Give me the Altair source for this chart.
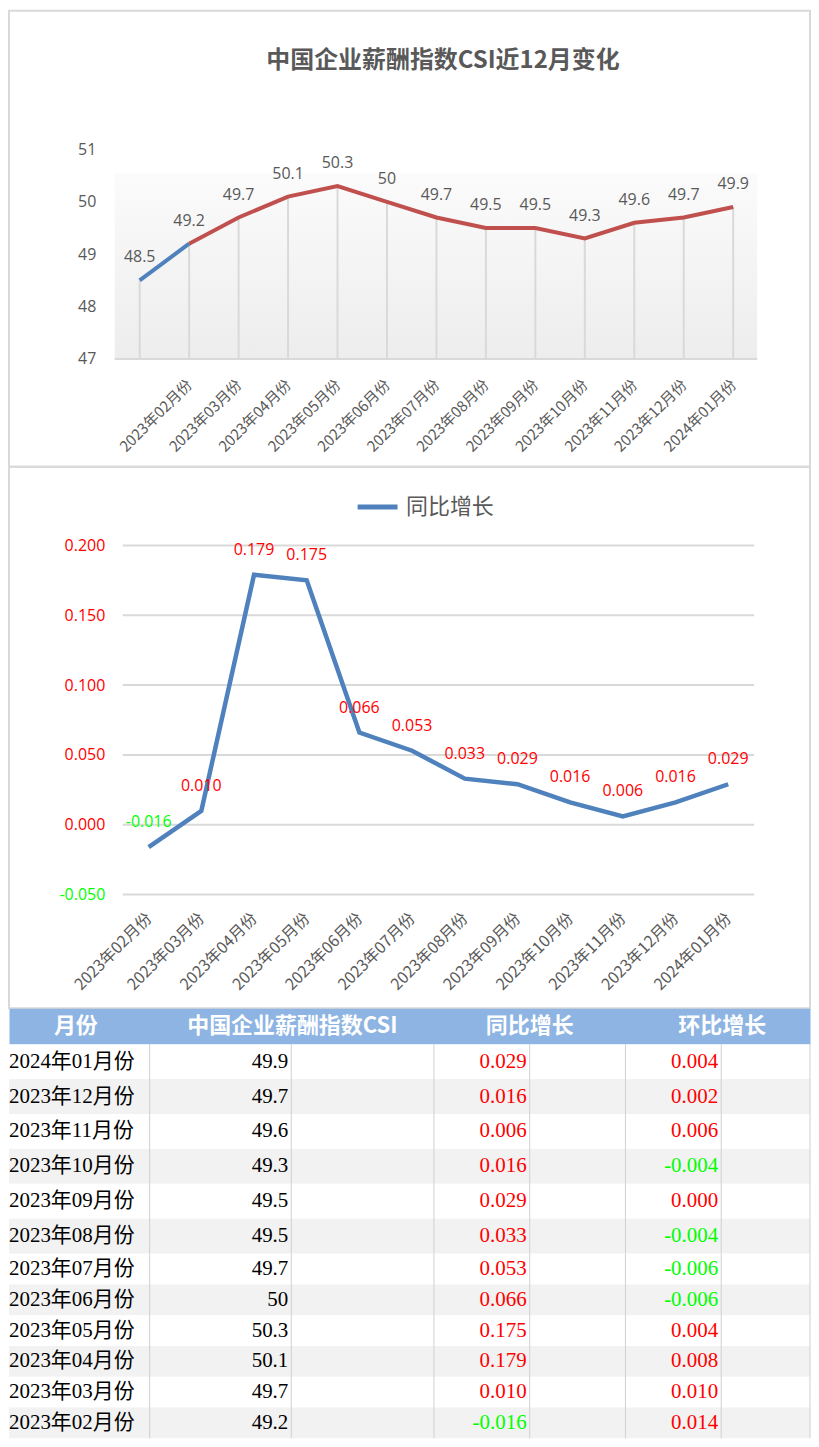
import altair as alt
import pandas as pd

# ---------------- data ----------------
months = ["2023年02月份", "2023年03月份", "2023年04月份", "2023年05月份", "2023年06月份",
          "2023年07月份", "2023年08月份", "2023年09月份", "2023年10月份", "2023年11月份",
          "2023年12月份", "2024年01月份"]
prev_month = "2023年01月份"
prev_csi = 48.5
csi = [49.2, 49.7, 50.1, 50.3, 50, 49.7, 49.5, 49.5, 49.3, 49.6, 49.7, 49.9]
yoy = [-0.016, 0.010, 0.179, 0.175, 0.066, 0.053, 0.033, 0.029, 0.016, 0.006, 0.016, 0.029]
mom = [0.014, 0.010, 0.008, 0.004, -0.006, -0.006, -0.004, 0.000, -0.004, 0.006, 0.002, 0.004]
csi_ticks = [47, 48, 49, 50, 51]
yoy_ticks = [-0.05, 0, 0.05, 0.1, 0.15, 0.2]
title_text = "中国企业薪酬指数CSI近12月变化"
legend_label = "同比增长"
headers = ["月份", "中国企业薪酬指数CSI", "同比增长", "环比增长"]

# ---------------- style ----------------
W = 803
H1 = 457
H2 = 543
HH = 36
HB1 = 210
HB2 = 185
GRAY = "#595959"
GRID = "#D9D9D9"
BLUE = "#4F81BD"
RED = "#C0504D"
POS = "#FF0000"
NEG = "#00FF00"
SANS = "Open Sans"
CJK = "Noto Sans CJK SC"
SERIF = "Liberation Serif, Noto Sans CJK SC"
MINUS_FIX = "replace(format({v}, '.3f'), '\u2212', '-')"

one = pd.DataFrame({"k": [0]})

# ---------------- panel 1 ----------------
all_months = [prev_month] + months
all_csi = [prev_csi] + csi
df1 = pd.DataFrame({"month": all_months, "csi": all_csi})
seg_df = pd.concat([
    pd.DataFrame({"month": all_months[:2], "csi": all_csi[:2], "seg": "a"}),
    pd.DataFrame({"month": all_months[1:], "csi": all_csi[1:], "seg": "b"}),
], ignore_index=True)

x1 = alt.X("month:N", sort=all_months,
           scale=alt.Scale(type="point", range=[131, 726], padding=0),
           axis=alt.Axis(title=None, labelAngle=-45, labelAlign="right", labelBaseline="middle",
                         labelFont=CJK, labelFontSize=15, labelColor=GRAY, labelPadding=8,
                         offset=-93, domain=False, ticks=False, tickSize=0, grid=False,
                         labelOverlap=False,
                         labelExpr=f"datum.label == '{prev_month}' ? '' : datum.label"))
y1 = alt.Y("csi:Q", scale=alt.Scale(domain=[47, 51], range=[349, 139], zero=False, nice=False),
           axis=alt.Axis(title=None, values=csi_ticks, format="d", labelFont=SANS, labelFontSize=16,
                         labelColor=GRAY, labelPadding=6, offset=-93, domain=False,
                         ticks=False, tickSize=0, grid=False))

grad = alt.Chart(one).mark_rect(
    color=alt.Gradient(gradient="linear",
                       stops=[alt.GradientStop(color="#FBFBFB", offset=0),
                              alt.GradientStop(color="#EDEDED", offset=1)],
                       x1=0, x2=0, y1=0, y2=1)
).encode(x=alt.value(106), x2=alt.value(750), y=alt.value(163), y2=alt.value(349))

bottom = alt.Chart(one).mark_rule(color=GRID, strokeWidth=2).encode(
    y=alt.datum(csi_ticks[0]), x=alt.value(106), x2=alt.value(750))

drops = alt.Chart(df1).mark_rule(color=GRID, strokeWidth=2).encode(
    x=x1, y=y1, y2=alt.datum(csi_ticks[0]))

line1 = alt.Chart(seg_df).mark_line(strokeWidth=4).encode(
    x=x1, y=y1,
    color=alt.Color("seg:N", scale=alt.Scale(domain=["a", "b"], range=[BLUE, RED]), legend=None))

labels1 = alt.Chart(df1).mark_text(dy=-23, fontSize=16, font=SANS, color=GRAY).encode(
    x=x1, y=y1, text=alt.Text("csi:Q", format=".1~f"))

title1 = alt.Chart(pd.DataFrame({"t": [title_text]})).mark_text(
    font=CJK, fontSize=24, fontWeight="bold", color=GRAY).encode(
    text="t:N", x=alt.value(435), y=alt.value(50))

panel1 = alt.layer(grad, bottom, drops, line1, labels1, title1).properties(
    width=W, height=H1, view=alt.ViewBackground(stroke=GRID, strokeWidth=2))

# ---------------- panel 2 ----------------
df2 = pd.DataFrame({"month": months, "yoy": yoy, "series": legend_label})
grid_df = pd.DataFrame({"yoy": yoy_ticks})

x2 = alt.X("month:N", sort=months,
           scale=alt.Scale(type="point", range=[140, 721], padding=0),
           axis=alt.Axis(title=None, labelAngle=-45, labelAlign="right", labelBaseline="middle",
                         labelFont=CJK, labelFontSize=16, labelColor=GRAY, labelPadding=7,
                         offset=-100, domain=False, ticks=False, tickSize=0, grid=False,
                         labelOverlap=False))
y2 = alt.Y("yoy:Q", scale=alt.Scale(domain=[-0.05, 0.2], range=[429, 79], zero=False, nice=False),
           axis=alt.Axis(title=None, values=yoy_ticks,
                         labelExpr=MINUS_FIX.format(v="datum.value"),
                         labelColor={"condition": {"test": "datum.value < 0", "value": NEG},
                                     "value": POS},
                         labelFont=SANS, labelFontSize=16, labelPadding=4, offset=-100,
                         domain=False, ticks=False, tickSize=0, grid=False))

grid2 = alt.Chart(grid_df).mark_rule(color=GRID, strokeWidth=2).encode(
    y=y2, x=alt.value(114), x2=alt.value(747))

line2 = alt.Chart(df2).mark_line(strokeWidth=4.5).encode(
    x=x2, y=y2,
    color=alt.Color("series:N", scale=alt.Scale(range=[BLUE]),
                    legend=alt.Legend(title=None, orient="none", legendX=347, legendY=18,
                                      symbolType="stroke", symbolSize=1600,
                                      symbolStrokeWidth=5, labelFont=CJK, labelFontSize=22,
                                      labelColor=GRAY, labelOffset=6, padding=0)))

labels2 = alt.Chart(df2).transform_calculate(
    lbl=MINUS_FIX.format(v="datum.yoy")
).mark_text(dy=-25, fontSize=16, font=SANS).encode(
    x=x2, y=y2, text="lbl:N",
    color=alt.condition("datum.yoy < 0", alt.value(NEG), alt.value(POS)))

panel2 = alt.layer(grid2, line2, labels2).properties(
    width=W, height=H2, view=alt.ViewBackground(stroke=GRID, strokeWidth=2))

# ---------------- table ----------------
hdr_x = [67, 284, 522, 715]
header = alt.layer(*[
    alt.Chart(pd.DataFrame({"t": [h]})).mark_text(
        font=CJK, fontSize=22, fontWeight="bold", color="white").encode(
        text="t:N", x=alt.value(cx), y=alt.value(HH / 2))
    for h, cx in zip(headers, hdr_x)
]).properties(width=W, height=HH, view=alt.ViewBackground(fill="#8DB4E2", stroke="transparent"))

tdf = pd.DataFrame({"month": months[::-1], "csi": csi[::-1], "yoy": yoy[::-1], "mom": mom[::-1]})
tdf["i"] = list(range(len(tdf)))

col_lines = [141, 283, 426, 522, 618, 714, W]


def body(part, h):
    yb = alt.Y("month:N", sort=None, axis=None,
               scale=alt.Scale(type="band", paddingInner=0, paddingOuter=0))
    yt = alt.Y("month:N", sort=None, axis=None, bandPosition=0.5,
               scale=alt.Scale(type="band", paddingInner=0, paddingOuter=0))
    base = alt.Chart(part)
    rows = base.mark_rect().encode(
        y=yb, x=alt.value(0), x2=alt.value(W),
        color=alt.condition("datum.i % 2 == 1", alt.value("#F2F2F2"), alt.value("#FFFFFF")))
    vlines = [alt.Chart(one).mark_rule(color="#D0D0D0", strokeWidth=1).encode(
        x=alt.value(px), y=alt.value(0), y2=alt.value(h)) for px in col_lines]
    t_month = base.mark_text(align="left", font=SERIF, fontSize=21, color="black").encode(
        y=yt, x=alt.value(0), text="month:N")
    t_csi = base.mark_text(align="right", font=SERIF, fontSize=21, color="black").encode(
        y=yt, x=alt.value(280), text=alt.Text("csi:Q", format=".1~f"))
    t_yoy = base.transform_calculate(lbl=MINUS_FIX.format(v="datum.yoy")).mark_text(
        align="right", font=SERIF, fontSize=21).encode(
        y=yt, x=alt.value(519), text="lbl:N",
        color=alt.condition("datum.yoy < 0", alt.value(NEG), alt.value(POS)))
    t_mom = base.transform_calculate(lbl=MINUS_FIX.format(v="datum.mom")).mark_text(
        align="right", font=SERIF, fontSize=21).encode(
        y=yt, x=alt.value(711), text="lbl:N",
        color=alt.condition("datum.mom < 0", alt.value(NEG), alt.value(POS)))
    return alt.layer(rows, *vlines, t_month, t_csi, t_yoy, t_mom).properties(
        width=W, height=h, view=alt.ViewBackground(stroke="transparent"))


body1 = body(tdf.iloc[:6], HB1)
body2 = body(tdf.iloc[6:], HB2)

chart = alt.vconcat(panel1, panel2, header, body1, body2, spacing=0).properties(
    padding=0, bounds="flush"
).configure_view(stroke="transparent").resolve_scale(color="independent")

chart.save("out.html", embed_options={"renderer": "svg", "actions": False})
